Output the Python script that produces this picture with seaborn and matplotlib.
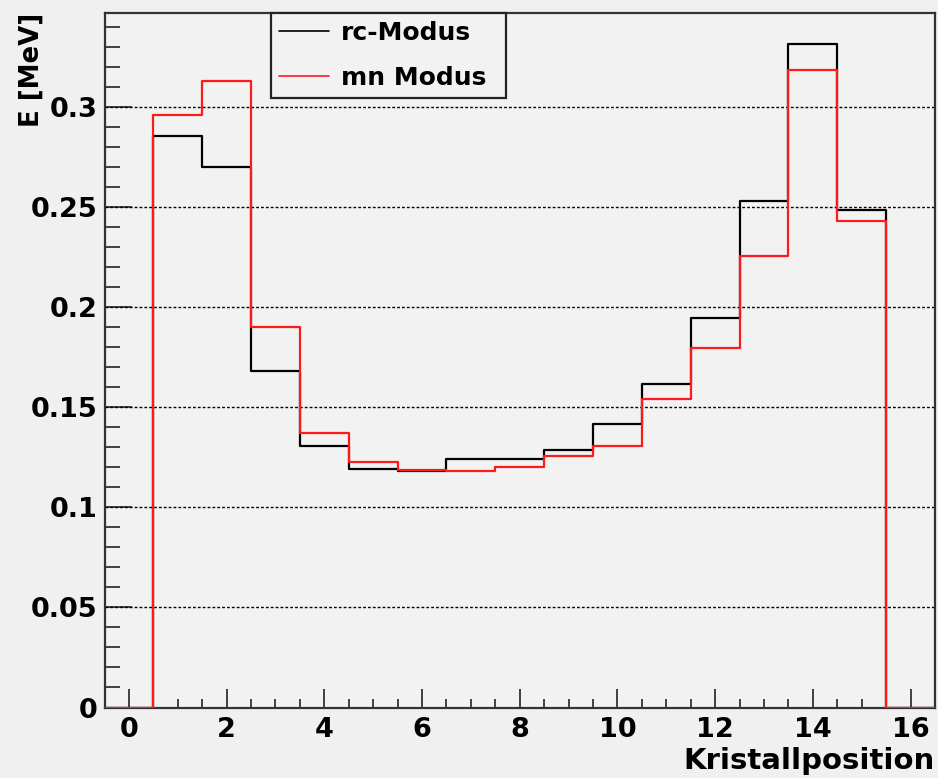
import numpy as np
import pandas as pd
import matplotlib
matplotlib.use("Agg")
import matplotlib.pyplot as plt
import seaborn as sns
from matplotlib.ticker import FixedLocator, MultipleLocator, FixedFormatter

# ---- data ----
positions = [0, 1, 2, 3, 4, 5, 6, 7, 8, 9, 10, 11, 12, 13, 14, 15, 16]
rc_modus = [0.0, 0.2854, 0.2700, 0.1680, 0.1309, 0.1194, 0.1184, 0.1241, 0.1241,
            0.1288, 0.1414, 0.1614, 0.1946, 0.2533, 0.3314, 0.2486, 0.0]
mn_modus = [0.0, 0.2960, 0.3130, 0.1900, 0.1374, 0.1229, 0.1188, 0.1183, 0.1203,
            0.1256, 0.1309, 0.1543, 0.1794, 0.2254, 0.3186, 0.2429, 0.0]
series_labels = ["rc-Modus", "mn Modus"]
y_ticks = [0, 0.05, 0.1, 0.15, 0.2, 0.25, 0.3]
y_tick_labels = ["0", "0.05", "0.1", "0.15", "0.2", "0.25", "0.3"]
x_ticks = [0, 2, 4, 6, 8, 10, 12, 14, 16]
x_tick_labels = ["0", "2", "4", "6", "8", "10", "12", "14", "16"]

df = pd.DataFrame({"pos": positions, "rc": rc_modus, "mn": mn_modus})

sns.set_style("ticks")
plt.rcParams["font.family"] = ["DejaVu Sans"]
plt.rcParams["font.weight"] = "bold"
plt.rcParams["text.color"] = "black"
plt.rcParams["axes.labelcolor"] = "black"
plt.rcParams["xtick.color"] = "black"
plt.rcParams["ytick.color"] = "black"

bg = "#f0f0f0"
fig = plt.figure(figsize=(9.38, 7.78), dpi=100, facecolor=bg)
ax = fig.add_axes([104.5 / 938, 1 - 707.5 / 778, (935 - 104.5) / 938, (707.5 - 13) / 778])
ax.set_facecolor("#f2f2f2")

sns.histplot(data=df, x="pos", weights="rc", binwidth=1.0, binrange=(-0.5, 16.5),
             element="step", fill=False, color="black", linewidth=1.6, ax=ax,
             label=series_labels[0], zorder=3)
sns.histplot(data=df, x="pos", weights="mn", binwidth=1.0, binrange=(-0.5, 16.5),
             element="step", fill=False, color="#ff1a1a", linewidth=1.6, ax=ax,
             label=series_labels[1], zorder=4)

ax.set_xlim(-0.5, 16.5)
ax.set_ylim(0, 0.347)

# ticks
ax.yaxis.set_major_locator(FixedLocator(y_ticks))
ax.yaxis.set_major_formatter(FixedFormatter(y_tick_labels))
ax.yaxis.set_minor_locator(MultipleLocator(0.01))
ax.xaxis.set_major_locator(FixedLocator(x_ticks))
ax.xaxis.set_major_formatter(FixedFormatter(x_tick_labels))
ax.xaxis.set_minor_locator(MultipleLocator(0.5))

ax.tick_params(axis="y", which="major", direction="in", length=19.5, width=1.3,
               color="#333333", labelcolor="black", labelsize=19.5, pad=5)
ax.tick_params(axis="y", which="minor", direction="in", length=10.8, width=1.3, color="#333333")
ax.tick_params(axis="x", which="major", direction="in", length=13.7, width=1.3,
               color="#333333", labelcolor="black", labelsize=19.5, pad=7)
ax.tick_params(axis="x", which="minor", direction="in", length=6.8, width=1.3, color="#333333")
for lab in ax.get_xticklabels() + ax.get_yticklabels():
    lab.set_fontweight("bold")

for s in ax.spines.values():
    s.set_visible(True)
    s.set_color("#333333")
    s.set_linewidth(1.6)

# grid
ax.grid(False)
for yv in y_ticks[1:]:
    ax.axhline(yv, color="black", linestyle=(0, (2, 1.5)), linewidth=1.0, zorder=1)

# labels
ax.set_xlabel("Kristallposition", fontsize=21, fontweight="bold", loc="right", color="black")
ax.xaxis.set_label_coords(1.0, -0.057)
ax.set_ylabel("E [MeV]", fontsize=18.7, fontweight="bold", loc="top", color="black")
ax.yaxis.set_label_coords(-0.072, 1.0)

# legend
leg = ax.legend(loc="upper left", bbox_to_anchor=(0.2002, 1.0, 0.2835, 0.0), mode="expand",
                frameon=True, fancybox=False, shadow=False,
                borderpad=0.32, labelspacing=0.84, handlelength=2.0, handletextpad=0.5,
                borderaxespad=0.0, prop={"weight": "bold", "size": 18})
leg.get_frame().set_edgecolor("#222222")
leg.get_frame().set_facecolor("#f2f2f2")
leg.get_frame().set_linewidth(1.6)
leg.get_frame().set_alpha(1.0)
for t in leg.get_texts():
    t.set_color("black")
for h in leg.get_lines():
    h.set_linewidth(1.2)

fig.savefig("out.png", dpi=100, facecolor=bg)
